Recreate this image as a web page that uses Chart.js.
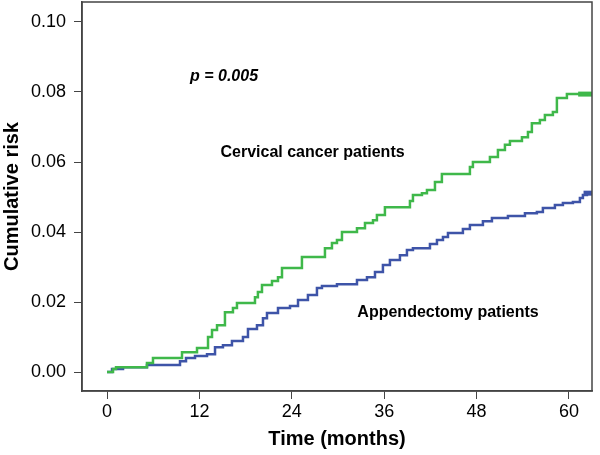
<!DOCTYPE html>
<html>
<head>
<meta charset="utf-8">
<script src="https://cdn.jsdelivr.net/npm/chart.js@4"></script>
<style>
  body { margin: 0; background: #fff; }
  #wrap { width: 600px; height: 455px; }
</style>
</head>
<body>
<div id="wrap"><canvas id="kmChart"></canvas></div>
<script>
// Cumulative risk step curves (time in months, risk)
const cervicalTime = [0, 0.78, 1.17, 5.19, 5.97, 9.74, 11.69, 13.12, 13.64, 14.29, 15.32, 16.36, 16.88, 19.22, 19.6, 20.13, 21.43, 22.21, 22.73, 25.32, 28.31, 29.22, 29.87, 30.52, 32.47, 33.51, 34.55, 35.06, 36.1, 39.35, 39.74, 40.91, 41.56, 42.6, 43.5, 47.14, 47.53, 49.74, 50.78, 51.69, 52.34, 53.9, 54.68, 55.19, 56.23, 56.88, 57.92, 58.44, 59.74, 63];
const cervicalRisk = [0, 0.0009, 0.0014, 0.0026, 0.004, 0.0057, 0.0069, 0.01, 0.012, 0.0134, 0.0171, 0.0183, 0.0197, 0.0214, 0.0229, 0.0249, 0.026, 0.0271, 0.0297, 0.0329, 0.0354, 0.0369, 0.0377, 0.04, 0.0411, 0.0426, 0.0434, 0.0449, 0.0471, 0.0489, 0.0506, 0.0511, 0.052, 0.0543, 0.0566, 0.0586, 0.06, 0.0614, 0.0634, 0.0649, 0.066, 0.0671, 0.0686, 0.0711, 0.072, 0.0734, 0.0743, 0.0783, 0.0794, 0.0794];

const appendTime = [0, 0.65, 2.08, 5.19, 9.48, 10.26, 11.43, 12.99, 14.03, 15.06, 16.23, 17.66, 18.31, 19.48, 20.26, 20.78, 22.21, 23.77, 24.81, 26.1, 27.27, 27.92, 29.87, 32.47, 33.77, 34.81, 35.84, 36.75, 38.05, 38.96, 39.74, 41.95, 42.86, 43.64, 44.29, 46.23, 47.14, 48.83, 50.0, 52.08, 54.29, 55.84, 56.62, 58.18, 59.22, 60.52, 61.43, 61.82, 62.34, 63];
const appendRisk = [0, 0.0009, 0.0014, 0.002, 0.0031, 0.004, 0.0046, 0.0051, 0.0071, 0.0077, 0.0089, 0.01, 0.0123, 0.0134, 0.0154, 0.0169, 0.0183, 0.0189, 0.0206, 0.022, 0.024, 0.0246, 0.0251, 0.0263, 0.0271, 0.0286, 0.0306, 0.032, 0.0334, 0.0349, 0.0354, 0.0366, 0.0377, 0.0386, 0.0397, 0.0409, 0.042, 0.0431, 0.044, 0.0446, 0.0454, 0.0457, 0.0469, 0.0477, 0.0483, 0.0486, 0.0497, 0.0506, 0.0511, 0.0511];

// dense censoring at the end of follow-up
const cervicalCensorTime = [61.2, 63];
const appendCensorTime = [61.9, 63];

const xTicks = [0, 12, 24, 36, 48, 60];
const yTicks = [0, 0.02, 0.04, 0.06, 0.08, 0.10];

const FONT = "'Liberation Sans', Arial, sans-serif";
const notes = [
  { text: "p = 0.005", x: 15.2, y: 0.0843, font: "italic bold 16px " + FONT },
  { text: "Cervical cancer patients", x: 26.7, y: 0.0627, font: "bold 16px " + FONT },
  { text: "Appendectomy patients", x: 44.3, y: 0.0169, font: "bold 16px " + FONT }
];

const GREEN = "#3fb84a";
const BLUE = "#3e54a8";
const AXIS = "#444";

const toPoints = (xs, ys) => xs.map((x, i) => ({ x: x, y: ys[i] }));

const frameAndNotes = {
  id: "frameAndNotes",
  afterDraw(chart) {
    const { ctx, chartArea, scales } = chart;
    ctx.save();
    ctx.strokeStyle = AXIS;
    ctx.lineWidth = 1.5;
    ctx.strokeRect(chartArea.left, chartArea.top, chartArea.right - chartArea.left, chartArea.bottom - chartArea.top);
    ctx.fillStyle = "#000";
    ctx.textAlign = "center";
    ctx.textBaseline = "middle";
    notes.forEach((n) => {
      ctx.font = n.font;
      ctx.fillText(n.text, scales.x.getPixelForValue(n.x), scales.y.getPixelForValue(n.y));
    });
    ctx.restore();
  }
};

const ctx = document.getElementById("kmChart").getContext("2d");
new Chart(ctx, {
  type: "line",
  data: {
    datasets: [
      {
        label: "Cervical cancer patients",
        data: toPoints(cervicalTime, cervicalRisk),
        borderColor: GREEN,
        borderWidth: 2.5,
        stepped: "before",
        pointRadius: 0,
        fill: false
      },
      {
        label: "Cervical censored",
        data: toPoints(cervicalCensorTime, cervicalCensorTime.map(() => cervicalRisk[cervicalRisk.length - 1])),
        borderColor: GREEN,
        borderWidth: 5,
        pointRadius: 0
      },
      {
        label: "Appendectomy patients",
        data: toPoints(appendTime, appendRisk),
        borderColor: BLUE,
        borderWidth: 2.5,
        stepped: "before",
        pointRadius: 0,
        fill: false
      },
      {
        label: "Appendectomy censored",
        data: toPoints(appendCensorTime, appendCensorTime.map(() => appendRisk[appendRisk.length - 1])),
        borderColor: BLUE,
        borderWidth: 5,
        pointRadius: 0
      }
    ]
  },
  options: {
    responsive: true,
    maintainAspectRatio: false,
    animation: false,
    layout: { padding: { top: 2, right: 8, left: 0, bottom: 0 } },
    plugins: {
      legend: { display: false },
      tooltip: { enabled: false }
    },
    scales: {
      x: {
        type: "linear",
        min: -3.25,
        max: 63,
        afterBuildTicks: (axis) => { axis.ticks = xTicks.map((v) => ({ value: v })); },
        afterFit: (axis) => { axis.height = 64; },
        grid: { drawOnChartArea: false, drawTicks: true, tickLength: 8, tickColor: AXIS },
        border: { display: true, color: AXIS, width: 1.5 },
        ticks: { color: "#000", padding: 2, maxRotation: 0, font: { family: FONT, size: 18 } },
        title: { display: true, text: "Time (months)", color: "#000", padding: { top: 2 }, font: { family: FONT, size: 20, weight: "bold" } }
      },
      y: {
        type: "linear",
        min: -0.0054,
        max: 0.1057,
        afterBuildTicks: (axis) => { axis.ticks = yTicks.map((v) => ({ value: v })); },
        afterFit: (axis) => { axis.width = 82; axis.paddingTop = 0; axis.paddingBottom = 0; },
        grid: { drawOnChartArea: false, drawTicks: true, tickLength: 8, tickColor: AXIS },
        border: { display: true, color: AXIS, width: 1.5 },
        ticks: { color: "#000", padding: 8, callback: (v) => Number(v).toFixed(2), font: { family: FONT, size: 18 } },
        title: { display: true, text: "Cumulative risk", color: "#000", padding: { top: 0, bottom: 0 }, font: { family: FONT, size: 20, weight: "bold" } }
      }
    }
  },
  plugins: [frameAndNotes]
});
</script>
</body>
</html>
